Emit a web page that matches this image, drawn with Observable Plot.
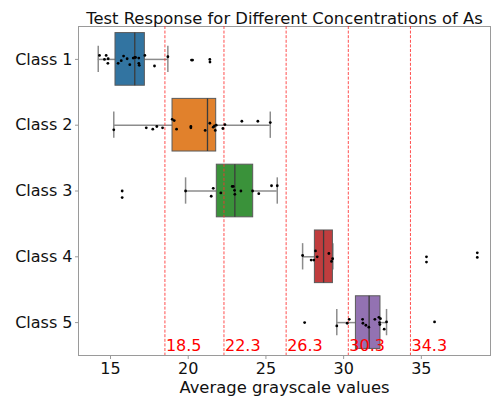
<!DOCTYPE html>
<html>
<head>
<meta charset="utf-8">
<script src="https://cdn.jsdelivr.net/npm/d3@7"></script>
<script src="https://cdn.jsdelivr.net/npm/@observablehq/plot@0.6"></script>
<style>
  body { margin: 0; background: #fff; }
  svg { display: block; }
</style>
</head>
<body>
<div id="chart"></div>
<script>
// Categories and box summaries (low whisker, Q1, median, Q3, high whisker)
const classes = ["Class 1", "Class 2", "Class 3", "Class 4", "Class 5"];
const boxColors = ["#3274a1", "#e1812c", "#3a923a", "#c03d3e", "#9372b2"];
const whiskerLow = [14.21, 15.21, 19.83, 27.36, 29.56];
const q1 = [15.32, 18.99, 21.84, 28.15, 30.79];
const median = [16.56, 21.24, 23.00, 28.71, 31.64];
const q3 = [17.21, 21.80, 24.18, 29.31, 32.37];
const whiskerHigh = [18.69, 25.28, 25.73, 29.31, 32.76];

// Individual measurements per class, with their strip jitter (fraction of a row)
const class1Values = [14.29, 14.72, 14.61, 14.85, 14.83, 15.49, 15.69, 15.84, 16.07, 16.24, 16.46, 16.56, 16.61, 16.82, 16.82, 16.85, 17.21, 17.83, 18.69, 20.21, 20.28, 21.39, 21.40];
const class1Jitter = [-0.06, -0.06, 0, -0.01, 0.06, 0.06, 0.02, -0.05, -0.01, 0.08, -0.02, -0.03, -0.03, -0.02, 0.06, 0.09, -0.06, 0.1, -0.04, 0.01, 0.01, 0, 0.04];
const class2Values = [15.21, 17.30, 17.72, 17.98, 18.35, 18.97, 19.10, 19.25, 20.17, 20.17, 21.09, 21.39, 21.61, 21.69, 21.74, 21.80, 22.23, 22.36, 23.45, 24.48, 25.28];
const class2Jitter = [0.07, 0.04, 0.06, 0.02, 0.04, -0.09, -0.07, 0.06, 0.02, 0.04, 0.08, -0.03, 0.03, 0.01, 0.08, 0, 0.05, -0.01, -0.06, -0.06, -0.04];
const class3Values = [15.75, 15.75, 19.83, 21.48, 21.61, 22.10, 22.83, 22.90, 22.98, 23.00, 23.39, 24.14, 24.54, 25.36, 25.73];
const class3Jitter = [0, 0.1, 0, 0.08, -0.04, 0.03, -0.07, -0.07, -0.01, 0.05, 0, 0, 0.04, -0.08, -0.08];
const class4Values = [27.36, 27.91, 28.08, 28.19, 28.30, 29.05, 29.29, 29.22, 35.33, 35.33, 38.60, 38.60];
const class4Jitter = [-0.02, 0.05, 0.05, -0.09, 0, -0.05, 0.03, 0.07, 0, 0.08, -0.06, 0.01];
const class5Values = [27.49, 29.56, 30.23, 30.36, 31.22, 31.24, 31.43, 31.62, 32.01, 32.27, 32.31, 32.33, 32.37, 32.61, 32.76, 35.85];
const class5Jitter = [0, 0.05, 0.01, -0.05, -0.05, 0.01, 0.04, 0.07, -0.05, -0.08, 0, 0.03, -0.06, 0.1, -0.01, -0.01];

// Concentration thresholds marked on the grayscale axis
const thresholds = [18.5, 22.3, 26.3, 30.3, 34.3];
const xTicks = [15, 20, 25, 30, 35];

const boxes = classes.map((name, i) => ({
  i, name, color: boxColors[i],
  lo: whiskerLow[i], q1: q1[i], med: median[i], q3: q3[i], hi: whiskerHigh[i]
}));

const valueSets = [class1Values, class2Values, class3Values, class4Values, class5Values];
const jitterSets = [class1Jitter, class2Jitter, class3Jitter, class4Jitter, class5Jitter];
const points = valueSets.flatMap((vals, i) =>
  vals.map((v, k) => ({ x: v, y: i + jitterSets[i][k] })));

const font = "DejaVu Sans";
const half = 0.4, cap = 0.2;
const whiskerStroke = "#8c8c8c";
const edgeStroke = "#5a5a5a";

const chart = Plot.plot({
  width: 491,
  height: 396,
  marginLeft: 78,
  marginRight: 1,
  marginTop: 26,
  marginBottom: 41,
  style: { fontFamily: font, fontSize: "16px", background: "#fff", color: "#111" },
  x: { domain: [12.94, 39.45] },
  y: { domain: [-0.5, 4.5], reverse: true },
  color: { type: "identity" },
  marks: [
    Plot.frame({ stroke: "#9a9a9a", strokeWidth: 1 }),
    // whiskers
    Plot.ruleY(boxes, { y: "i", x1: "lo", x2: "q1", stroke: whiskerStroke, strokeWidth: 1.5 }),
    Plot.ruleY(boxes, { y: "i", x1: "q3", x2: "hi", stroke: whiskerStroke, strokeWidth: 1.5 }),
    Plot.ruleX(boxes, { x: "lo", y1: d => d.i - cap, y2: d => d.i + cap, stroke: whiskerStroke, strokeWidth: 1.5 }),
    Plot.ruleX(boxes, { x: "hi", y1: d => d.i - cap, y2: d => d.i + cap, stroke: whiskerStroke, strokeWidth: 1.5 }),
    // interquartile boxes and medians
    Plot.rect(boxes, {
      x1: "q1", x2: "q3", y1: d => d.i - half, y2: d => d.i + half,
      fill: "color", stroke: edgeStroke, strokeWidth: 1
    }),
    Plot.ruleX(boxes, { x: "med", y1: d => d.i - half, y2: d => d.i + half, stroke: "#3c3c3c", strokeWidth: 1.3 }),
    // threshold guides
    Plot.ruleX(thresholds, { x: d => d, stroke: "#ff3030", strokeWidth: 1, strokeDasharray: "3,1.6", strokeOpacity: 0.85 }),
    // raw measurements
    Plot.dot(points, { x: "x", y: "y", r: 1.4, fill: "black", stroke: null }),
    // threshold values
    Plot.text(thresholds, {
      x: d => d, text: d => d.toFixed(1), frameAnchor: "bottom",
      textAnchor: "start", lineAnchor: "bottom", dx: 1, dy: -5,
      fill: "red", fontSize: 16
    }),
    Plot.axisX({
      ticks: xTicks, tickSize: 4, tickPadding: 3, stroke: "#9a9a9a",
      fontSize: 16, label: null
    }),
    Plot.axisY({
      ticks: [0, 1, 2, 3, 4], tickFormat: i => classes[i], tickSize: 3, tickPadding: 3,
      stroke: "#9a9a9a", fontSize: 16, label: null
    }),
    // x-axis title
    Plot.text(["Average grayscale values"], {
      text: d => d, frameAnchor: "bottom", lineAnchor: "bottom", dy: 37, fontSize: 16.4, fill: "#111"
    }),
    // chart title
    Plot.text(["Test Response for Different Concentrations of As"], {
      text: d => d, frameAnchor: "top", lineAnchor: "bottom", dy: -3, fontSize: 16.4, fill: "#111"
    })
  ]
});

document.getElementById("chart").appendChild(chart);
</script>
</body>
</html>
